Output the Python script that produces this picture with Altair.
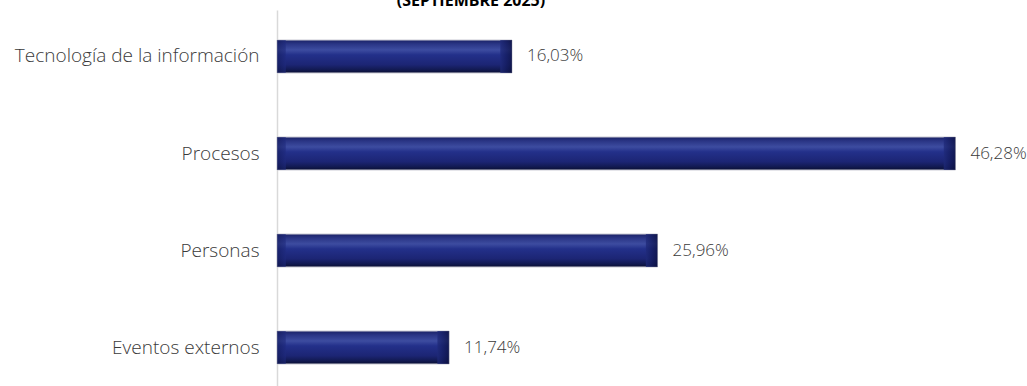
import altair as alt
import pandas as pd

categories = ["Tecnología de la información", "Procesos ", "Personas", "Eventos externos"]
values = [16.03, 46.28, 25.96, 11.74]
labels = ["16,03%", "46,28%", "25,96%", "11,74%"]
title_text = "(SEPTIEMBRE 2025)"

df = pd.DataFrame({"cat": categories, "val": values, "lbl": labels})

FONT = "Open Sans"

y_scale = alt.Scale(paddingInner=0.66, paddingOuter=0.268, align=0.577)
y_enc = alt.Y("cat:N", sort=categories, scale=y_scale,
              axis=alt.Axis(title=None, ticks=False, labelFontSize=19, labelFont=FONT,
                            labelColor="#3a3a3a", labelPadding=18, labelFontWeight=300,
                            domainColor="#d9d9d9", domainWidth=1.5, labelLimit=400))
y_plain = alt.Y("cat:N", sort=categories)
x_scale = alt.Scale(domain=[0, 50], nice=False)

grad = alt.Gradient(
    gradient="linear", x1=0, x2=0, y1=0, y2=1,
    stops=[
        alt.GradientStop(offset=0.0, color="#1a2266"),
        alt.GradientStop(offset=0.12, color="#2a3585"),
        alt.GradientStop(offset=0.3, color="#3d4ca0"),
        alt.GradientStop(offset=0.45, color="#23308a"),
        alt.GradientStop(offset=0.75, color="#1c2574"),
        alt.GradientStop(offset=0.9, color="#121a52"),
        alt.GradientStop(offset=1.0, color="#0a0f33"),
    ],
)
right_grad = alt.Gradient(
    gradient="linear", x1=0, x2=1, y1=0, y2=0,
    stops=[
        alt.GradientStop(offset=0.0, color="#1f2a7a"),
        alt.GradientStop(offset=0.5, color="#141c60"),
        alt.GradientStop(offset=1.0, color="#0c1142"),
    ],
)
left_grad = alt.Gradient(
    gradient="linear", x1=0, x2=1, y1=0, y2=0,
    stops=[
        alt.GradientStop(offset=0.0, color="#121a5a"),
        alt.GradientStop(offset=1.0, color="#1f2a7e"),
    ],
)

bars = alt.Chart(df).mark_bar(color=grad, stroke="#c9c9d3", strokeWidth=1).encode(
    y=y_enc, x=alt.X("val:Q", scale=x_scale, axis=None)
)

right_cap = alt.Chart(df).transform_calculate(x0="datum.val - 0.8").mark_bar(
    color=right_grad, opacity=0.75
).encode(y=y_plain, x=alt.X("x0:Q", scale=x_scale, axis=None), x2="val:Q")

left_cap = alt.Chart(df).transform_calculate(x0="0", x1="0.6").mark_bar(
    color=left_grad, opacity=0.6
).encode(y=y_plain, x=alt.X("x0:Q", scale=x_scale, axis=None), x2="x1:Q")

text = alt.Chart(df).mark_text(align="left", baseline="middle", dx=15, font=FONT,
                               fontSize=17, color="#3a3a3a", fontWeight=300).encode(
    y=y_plain, x=alt.X("val:Q", scale=x_scale, axis=None), text="lbl:N"
)

title = alt.Chart(pd.DataFrame({"t": [title_text]})).mark_text(
    align="center", baseline="alphabetic", font="Open Sans", fontSize=16, fontWeight="bold",
    color="#000000"
).encode(x=alt.value(194), y=alt.value(-4), text="t:N")

chart = alt.layer(bars, right_cap, left_cap, text, title).properties(
    width=733, height=376,
    background="white",
    autosize=alt.AutoSizeParams(type="none"),
    padding={"left": 277, "top": 10, "right": 17, "bottom": 0},
).configure_view(stroke=None)

chart.save("out.html", embed_options={"renderer": "svg", "actions": False})
